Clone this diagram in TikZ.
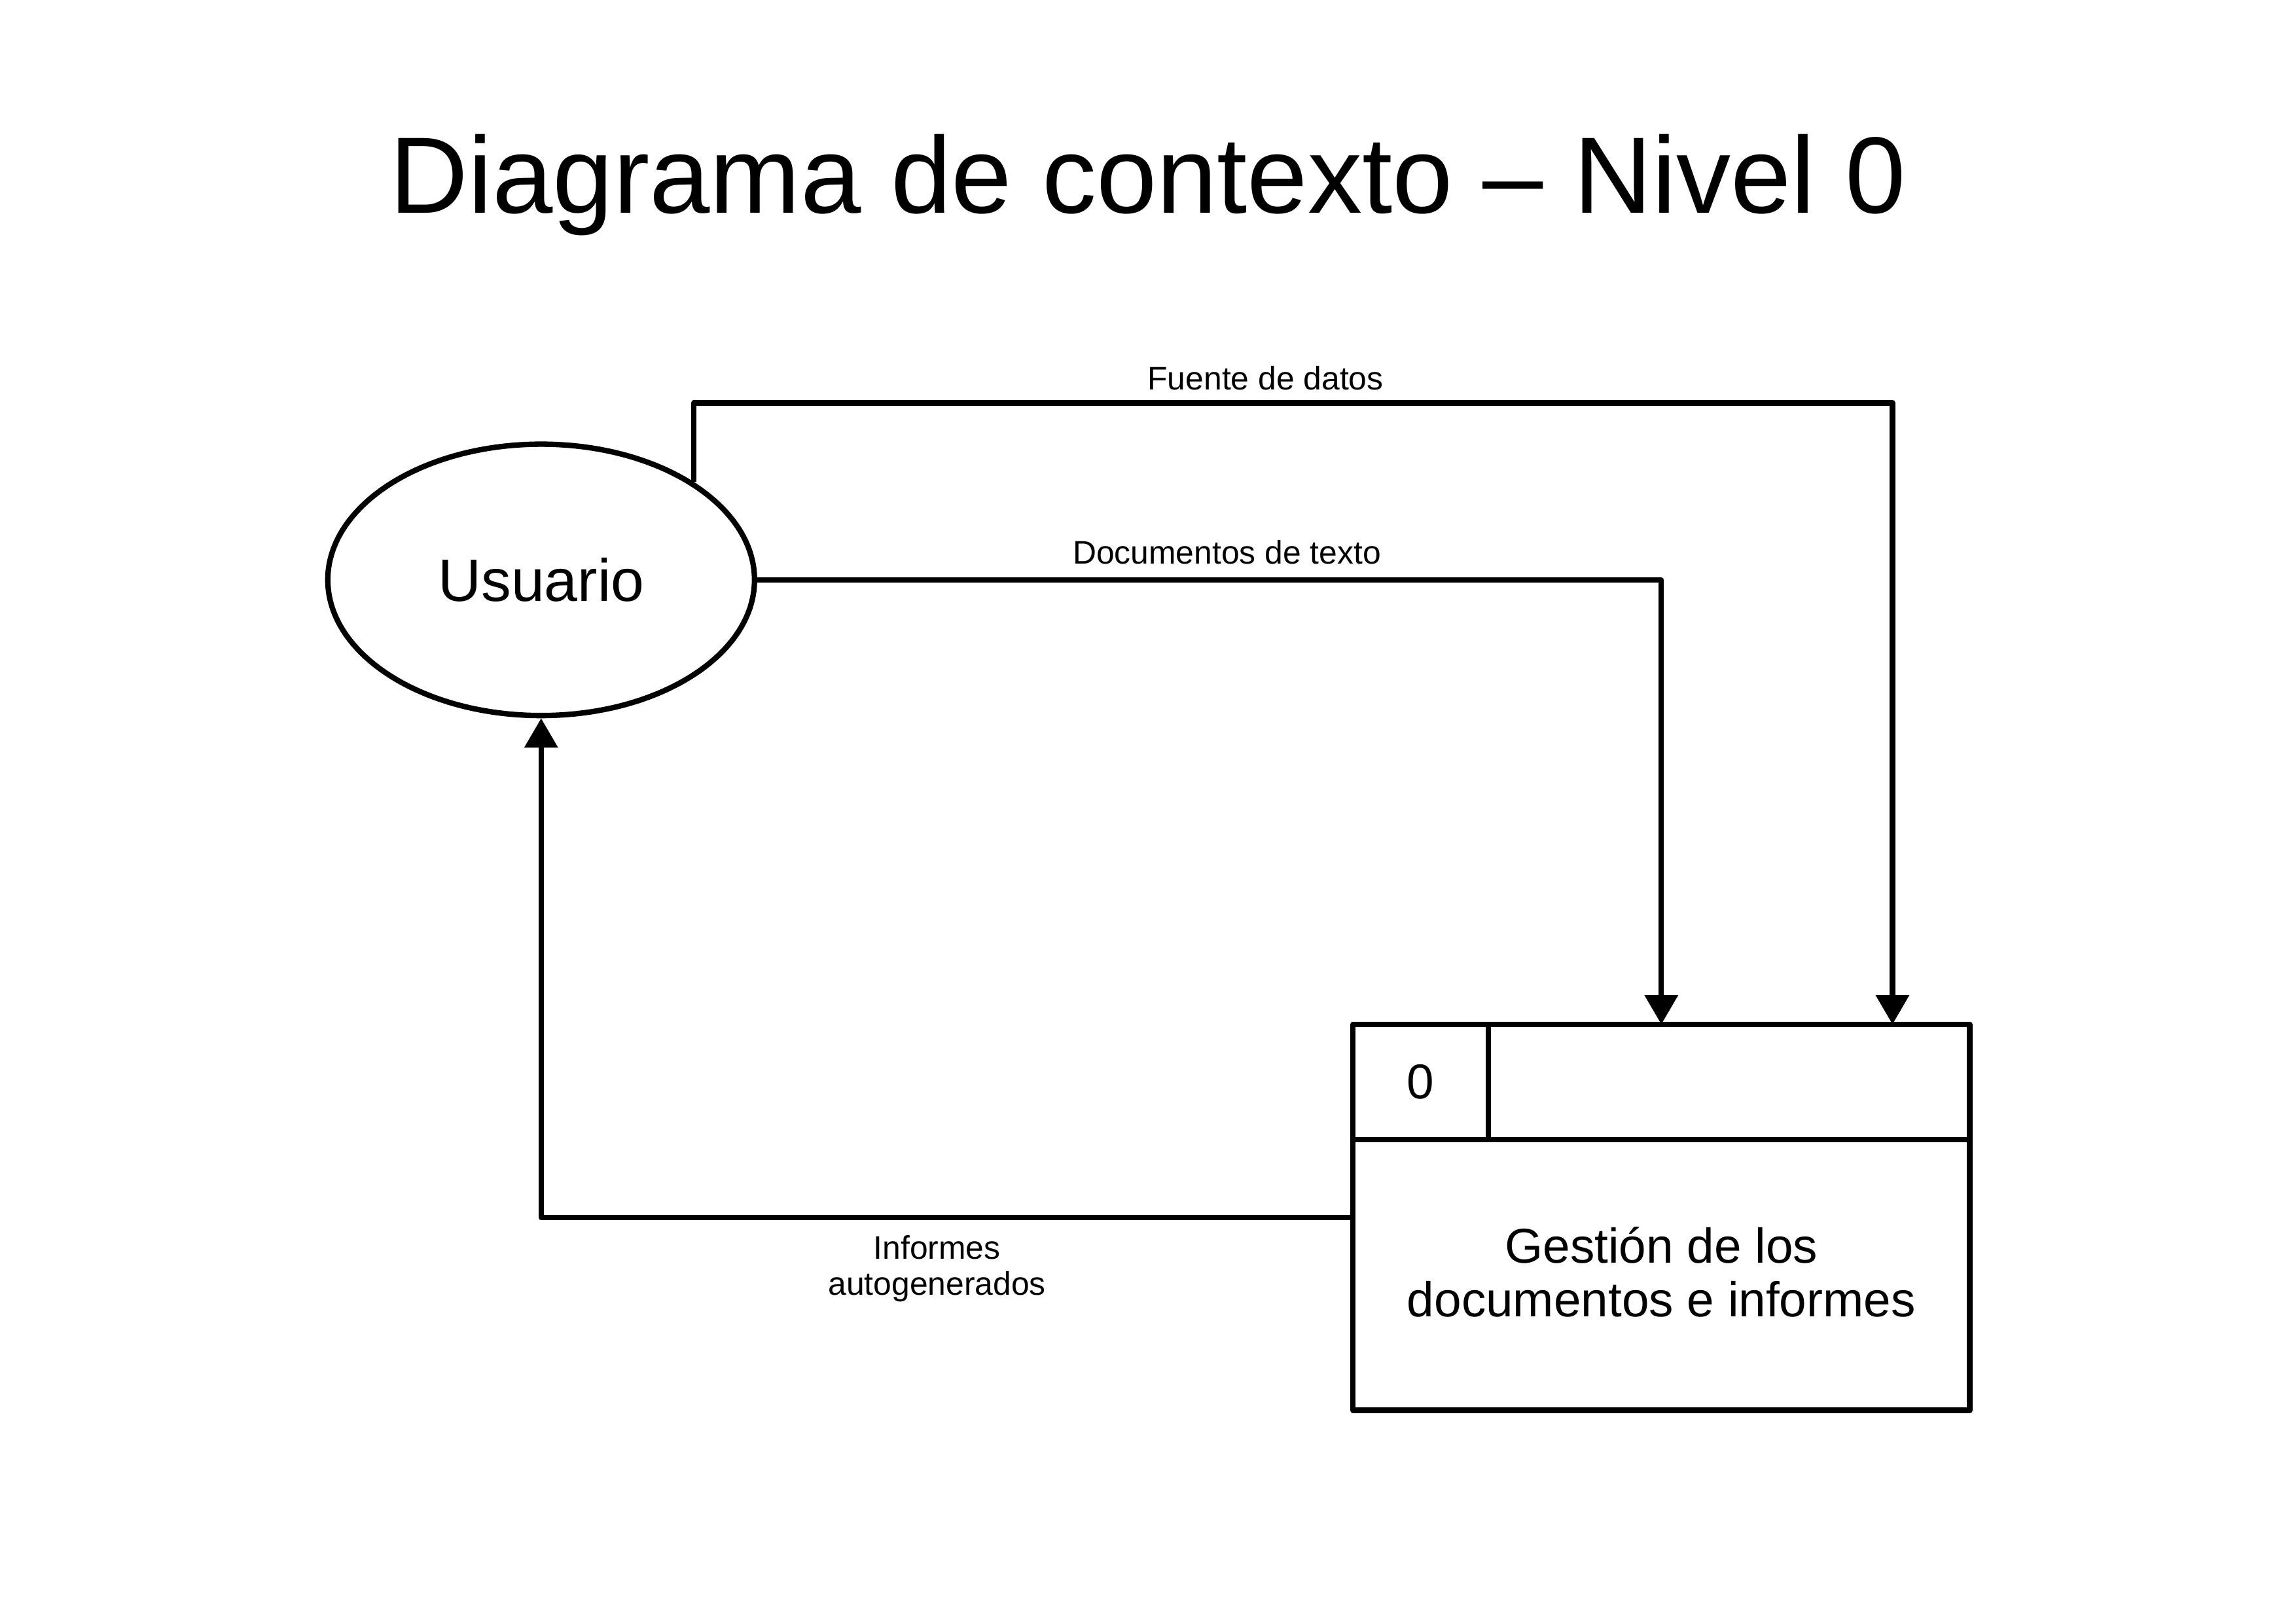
\documentclass[tikz,border=0pt]{standalone}
\usepackage{fontspec}
\setmainfont{Liberation Sans}
\usetikzlibrary{shapes.geometric,arrows.meta}
\begin{document}
\begin{tikzpicture}[
	flujo/.style={line width=2pt,line join=round,-{Triangle[width=4.2mm,length=3.8mm]}},
	etiq/.style={font=\fontsize{12}{13.2}\selectfont,inner sep=0pt,anchor=base,align=center}]
			\useasboundingbox (0,0) rectangle (29.7,21);
			\def\lw{2pt}  % grosor de las lineas
			\path 
			(17.5,2.76) coordinate (A)
			(17.5,7.75) coordinate (B)
			(25.48,7.75) coordinate (C)
			(25.48,2.76) coordinate (D)
			(17.5,6.26) coordinate (E)
			(25.48,6.26) coordinate (F)
			(19.25,7.75) coordinate (G)
			(19.25,6.26) coordinate (H)
			(24.48,15.79) coordinate (fd)  % esquina de la fuente de datos
			(17.5,5.25) coordinate (inf);
			\draw[line width=\lw,line join=round] (A)--(B)--(C)--(D)--cycle (E)--(F) (G)--(H);
			\node[draw,ellipse,line width=\lw,minimum width=5.52cm,minimum height=3.51cm,inner sep=0pt,
				font=\fontsize{22}{26}\selectfont] (usr) at (7,13.5) {Usuario};
			\node[font=\fontsize{18}{20}\selectfont] (num) at (barycentric cs:B=1,H=1) {0};
			\node[font=\fontsize{18}{19.7}\selectfont,anchor=base,align=center,inner sep=0pt] (gest) at (21.49,3.97)
				{Gestión de los\\documentos e informes};
			\node[font=\fontsize{40}{48}\selectfont,anchor=base] (titulo) at (14.85,18.24) {Diagrama de contexto – Nivel 0};
			% flujos
			\draw[flujo] (usr.north east) |- (fd) -- (fd |- C);
			\draw[flujo] (usr.east) -| (barycentric cs:B=1,C=1);
			\draw[flujo] (inf) -| (usr.south);
			\node[etiq] (lfd) at (16.37,15.96) {Fuente de datos};
			\node[etiq] (ldoc) at (15.87,13.71) {Documentos de texto};
			\node[etiq] (linf) at (12.12,4.25) {Informes\\autogenerados};
		\end{tikzpicture}
\end{document}
